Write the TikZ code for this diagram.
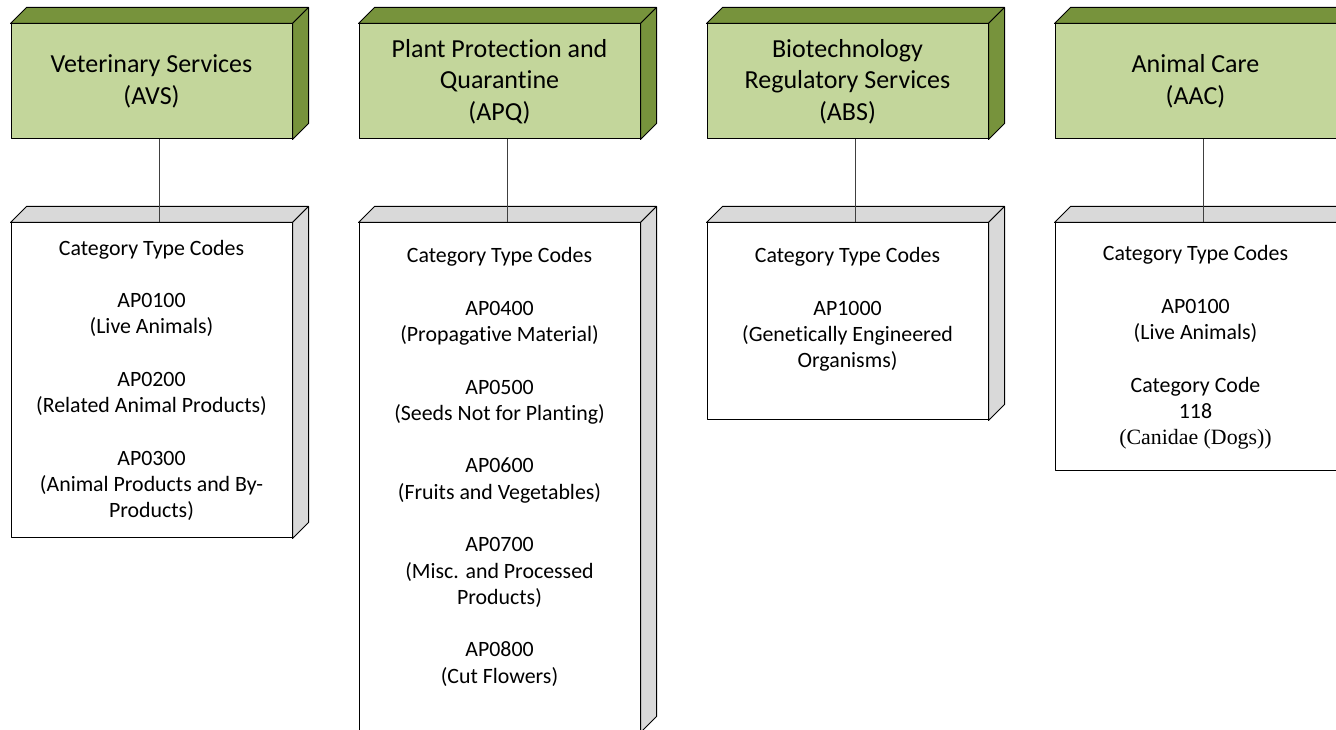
\documentclass[tikz,border=0pt]{standalone}
\usepackage{fontspec}
\setmainfont{Carlito}[Ligatures={NoCommon}]
\newfontfamily\timesfont{Liberation Serif}
\usepackage{tikz}
\usetikzlibrary{positioning}
\usepackage{xcolor}
\definecolor{agencyfront}{HTML}{C3D69B}
\definecolor{agencyside}{HTML}{77933C}
\definecolor{codeside}{HTML}{D9D9D9}
\newcommand{\agencyfont}{\fontsize{19.5}{23.6}\selectfont}
\newcommand{\codefont}{\fontsize{16.4}{19.7}\selectfont}
\newcommand{\boxfaces}[2]{%
	\filldraw[fill=#2] (#1.north west) -- ++(12pt,12pt) -- ([shift={(12pt,12pt)}]#1.north east) -- (#1.north east) -- cycle;
	\filldraw[fill=#2] (#1.north east) -- ++(12pt,12pt) -- ([shift={(12pt,12pt)}]#1.south east) -- (#1.south east) -- cycle;
}
\tikzset{%
	agency/.style={
		draw,
		fill=agencyfront,
		minimum width=210.75pt,
		minimum height=86.25pt,
		inner sep=0pt,
		align=center,
		font=\agencyfont
	},
	codebox/.style={
		draw,
		fill=white,
		minimum width=210.75pt,
		inner sep=0pt
	},
	codetext/.style={
		anchor=north,
		align=center,
		inner sep=0pt,
		font=\codefont
	},
	link/.style={draw=black!75, line width=0.75pt},
}

\begin{document}
\begin{tikzpicture}[
				x=0.75pt, y=-0.75pt,
				line width=0.75pt,
				line join=round
				]
				\useasboundingbox (0,0) rectangle (1336,730);
				\clip (0,0) rectangle (1336,730);
				
				\node[agency] (avs) at (151.5,81.5) {Veterinary Services\\(AVS)};
				\node[agency, right=49.5pt of avs] (apq) {Plant Protection and\\Quarantine\\(APQ)};
				\node[agency, right=49.5pt of apq] (abs) {Biotechnology\\Regulatory Services\\(ABS)};
				\node[agency, right=49.5pt of abs] (aac) {Animal Care\\(AAC)};
				\foreach \n in {avs,apq,abs,aac} {\boxfaces{\n}{agencyside}}
				
				\node[codebox, minimum height=236.25pt, below=62.25pt of avs] (avscodes) {};
				\node[codebox, minimum height=381.75pt, below=62.25pt of apq] (apqcodes) {};
				\node[codebox, minimum height=147.75pt, below=62.25pt of abs] (abscodes) {};
				\node[codebox, minimum height=186pt, below=62.25pt of aac] (aaccodes) {};
				\foreach \n in {avscodes,apqcodes,abscodes,aaccodes} {\boxfaces{\n}{codeside}}
				
				\node[codetext] (avslist) at ([yshift=-12.75pt]avscodes.north) {Category Type Codes\\[19.7pt]
					AP0100\\(Live Animals)\\[19.7pt]
					AP0200\\(Related Animal Products)\\[19.7pt]
					AP0300\\(Animal Products and By-\\Products)};
				\node[codetext] (apqlist) at ([yshift=-18.5pt]apqcodes.north) {Category Type Codes\\[19.7pt]
					AP0400\\(Propagative Material)\\[19.7pt]
					AP0500\\(Seeds Not for Planting)\\[19.7pt]
					AP0600\\(Fruits and Vegetables)\\[19.7pt]
					AP0700\\(Misc. and Processed\\Products)\\[19.7pt]
					AP0800\\(Cut Flowers)};
				\node[codetext] (abslist) at ([yshift=-18.5pt]abscodes.north) {Category Type Codes\\[19.7pt]
					AP1000\\(Genetically Engineered\\Organisms)};
				\node[codetext] (aaclist) at ([yshift=-17pt]aaccodes.north) {Category Type Codes\\[19.7pt]
					AP0100\\(Live Animals)\\[19.7pt]
					Category Code\\118\\{\timesfont(Canidae (Dogs))}};
				
				\foreach \a/\b in {avs/avscodes,apq/apqcodes,abs/abscodes,aac/aaccodes}
					\draw[link] ([xshift=6pt]\a.south) -- ([xshift=6pt]\b.north);
				
			\end{tikzpicture}
\end{document}
